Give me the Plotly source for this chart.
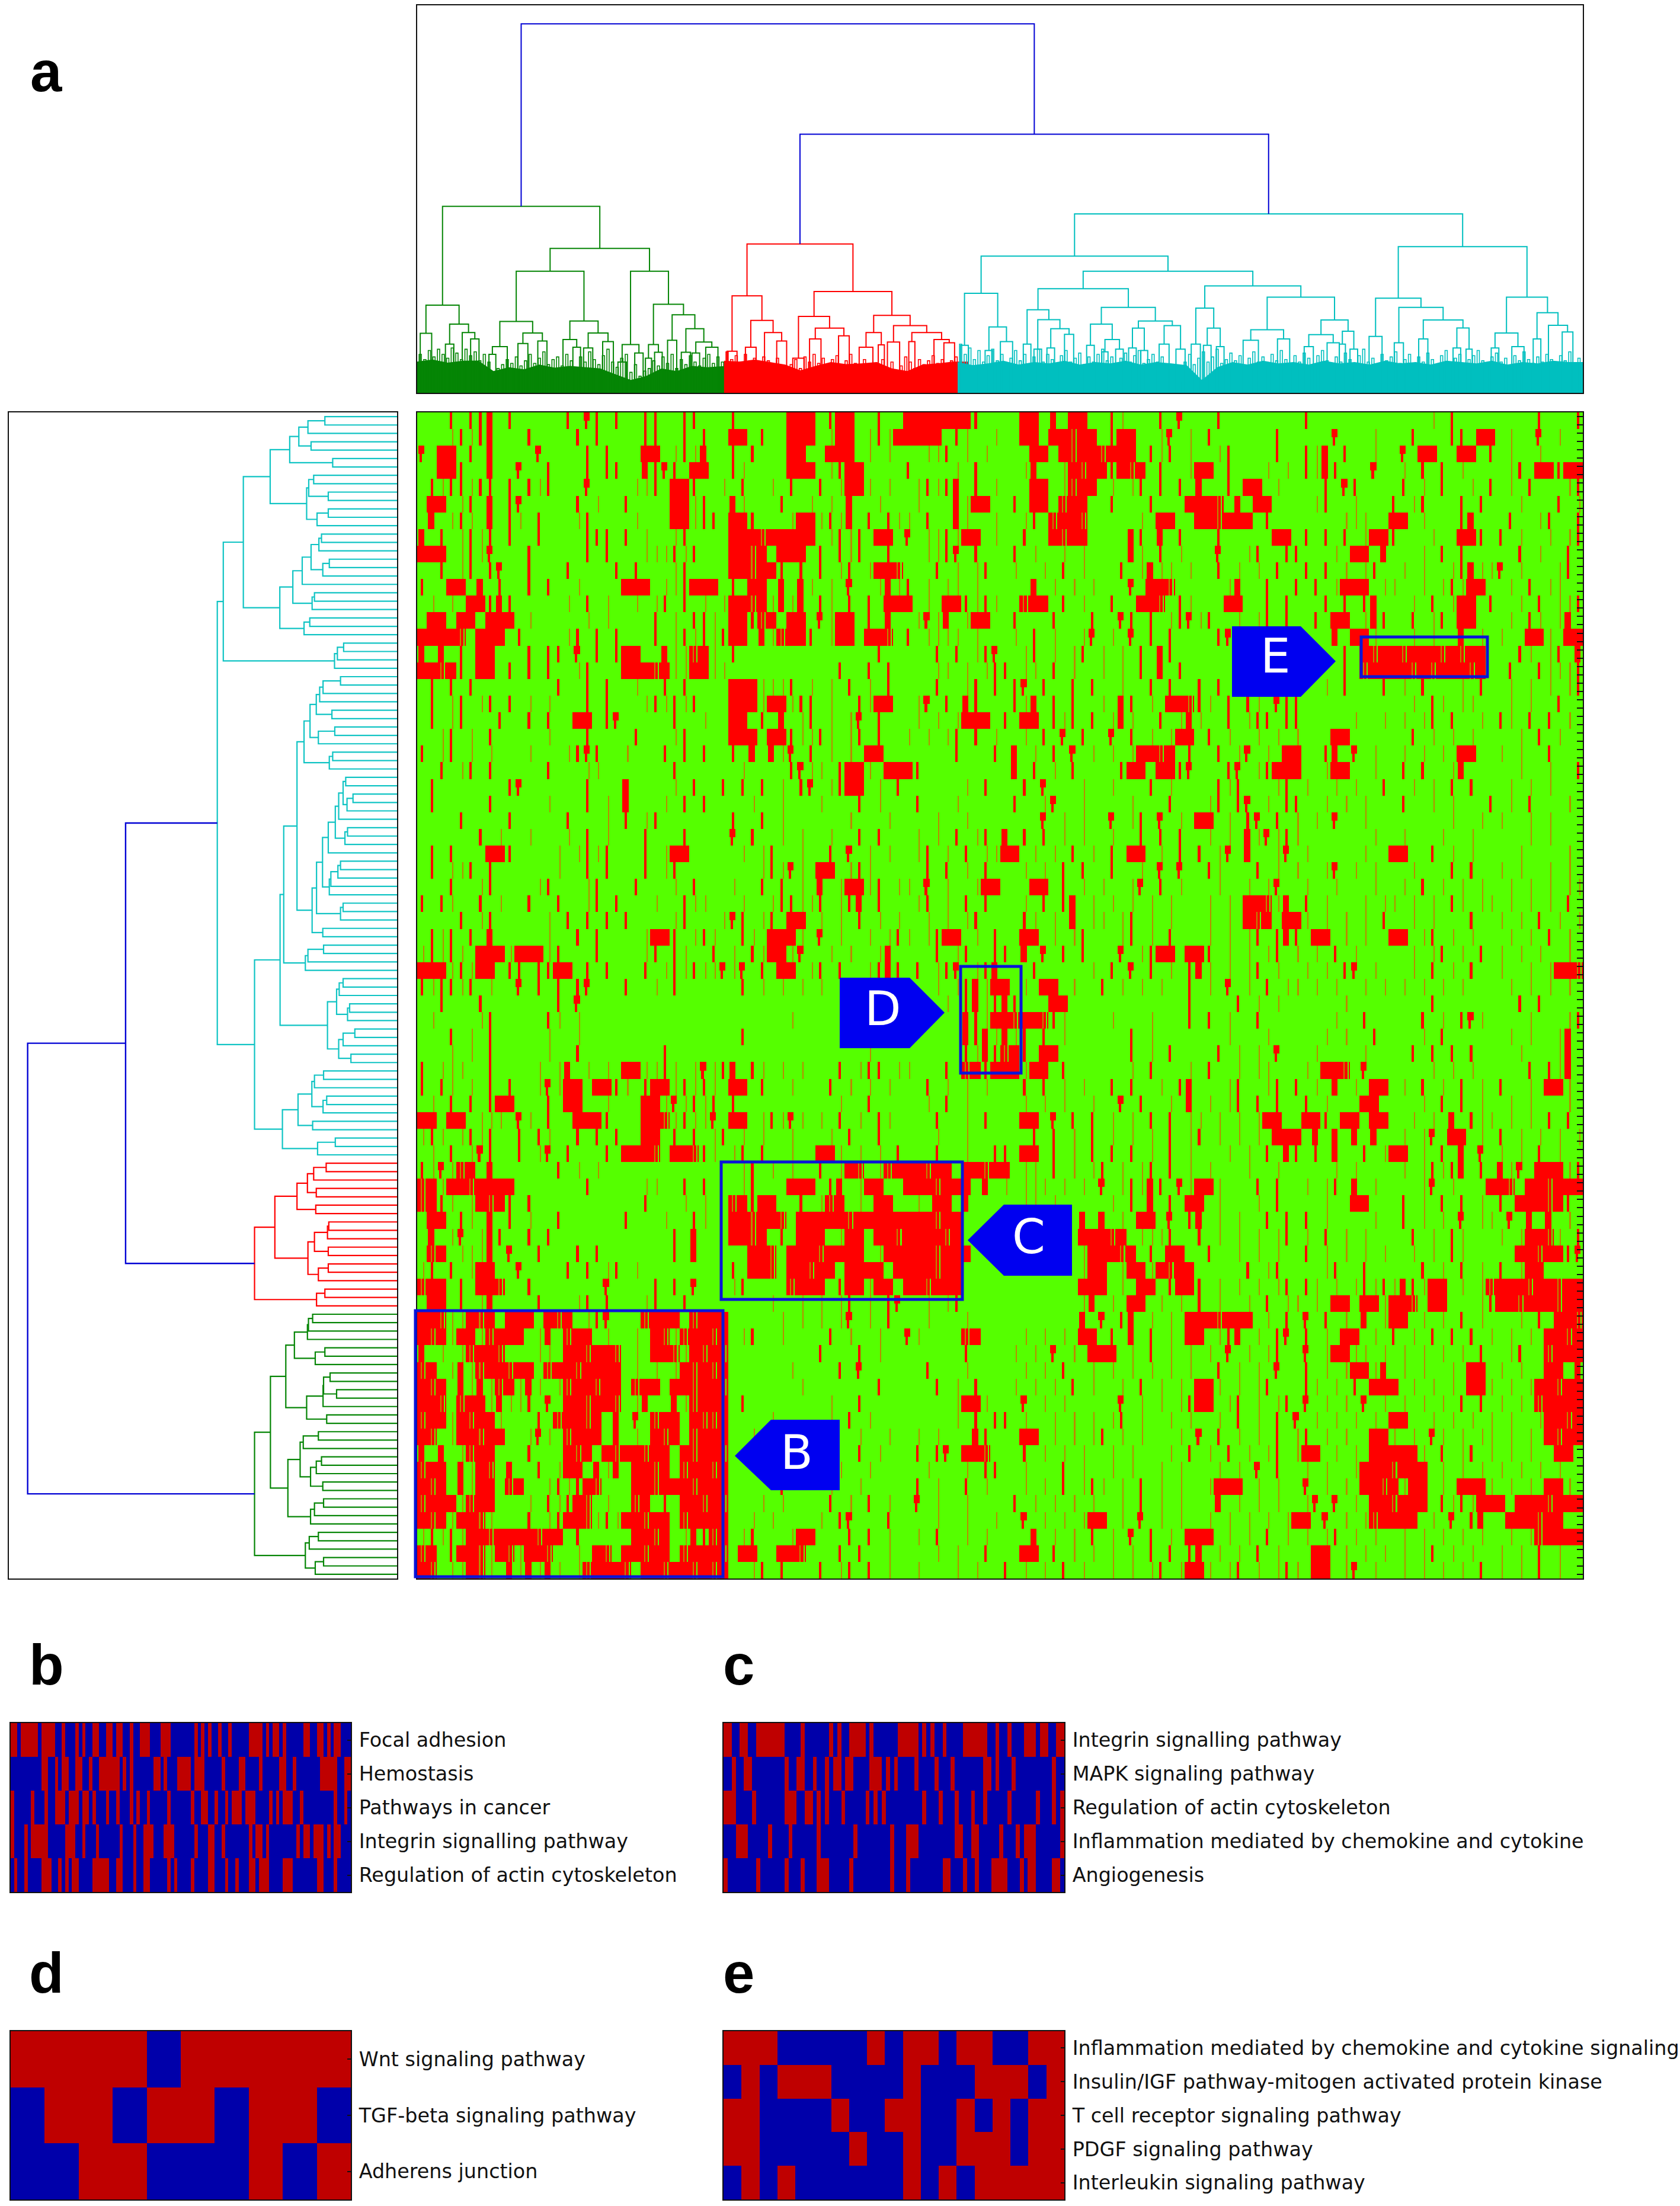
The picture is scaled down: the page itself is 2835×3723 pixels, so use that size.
import plotly.graph_objects as go

W, H = 2835, 3723

# ---------- main heat map, each string is two rows, each char a block of columns ----------
# . none   | thin red   : thin faint   # solid red   % red with a thin gap
HEAT_WEST = [
"...|.||#.| .....|.#|. |..||..||. ..|.....## #.|##..|.. #######|..",
"...:|:|#.. .|....|.|. ...||..|.| ..##.|..## #.:##.:|:# ####.|:..:",
"#.##.|.#.. ..#....|.| ...##.:|:# ..|.|...## ..###.:.:. ..::|.:.:.",
"..##|..#.. #..|...|.| |..#|#|.## ..|:....## #.:|##.... |....:.|..",
".|:||:||.| .|:|...#.. ..::|.##|. .:.|..:.|. .|.:##:.:. .:|:|#.|.:",
".##.:|.#.| #.....|.:. .|....##:| ..#:...|.. :.:.#..:.. .:...#:##.",
".#.:|:.#.| :.|...:|.. ..:...##:| |.##|...:# #:|:#.|.|: :.|..#:..:",
"#.|.:|:|.| ..|....||| .|.:..:|.. ..###%#### #.:|:|.##. #.::|:##.:",
"###.:|:#.. .|.....|.| ...:::|:|. ..##%#.### .|.|:|..|. ..::|#.|..",
"..|.:|.|#. .|...|.... |.|...:|.. ..##%##|.| .|.:|.:##% ...|.:.:|.",
"|..##.#.|. .|.|..:... .###.::|## #.|.##.#.# :.:.#..:#: |.:.::.:..",
".:.:.##|#| .....:.|.: ..:.:|.|.: .:##%#:#:# .|:.|.|.## #.:.##|:|:",
".##.##.### .:.....:.: ....|.:.|| :.##|%#.## .#:##.|.#. .:#:#.:##.",
"####%.###. |....:|.|. |...|.:|:| :|##.#:%## |.:##.##%. |.::::.:..",
"#.#.|.##.. .|.||.#.|. |##..#::%# :.|....... .......|.. ...|.|.:|#",
"##%#|.##.| .|.|..:|.. .###%#::## ::........ ...|..|.|. ...::.:.:|",
".|.|.|.... ....|..|.| ..:..|.|.. ..###:::|. :.:.|.:.|. ...|..:|.|",
".|.:|.:|.| .:.:...|.| ...:|:|:|. ..###:##:| |.:..|:##. .:#.|.#|..",
".|.:|...|. .|.|..##.| #.....|..: ..##.|.#.: |.:.:#.|.. .:.:.:###.",
"..:|.:.|.. ...:...|.. ..|...:|.. ..###.##|: :|:.:|.|.. :.:.:|.|.:",
"|.:|.:.:.. .:...:|#|. .:...|.|.| ..|.#.#:#. |.:.:.##.. .....|...|",
"..|.:|.|.. ...|...::. ......|... ...:....|# ::.|##:.## #|........",
".|.......| #......|.. .#....:.|. .|.|.|.:.| #.:|##.:.| ......:.|.",
".|.....|.. ...:...|.: .#...:.|.| ....:..:.. .:...|.:.. .|...:....",
"....|....| .....|...: .|.:|..... ..|..|.:.. ....:...:. ...:..:...",
"......|.:. .:...:.|.: ...|...|.. ..#.|..:.: ..:..|.|.. .:.:.|.:|.",
".|.|...##| ....:.:|:| ...|.:##.. ...:.:|..: ..|.#.:.:. .:|.:.|.::",
".|.::|.|.. ....:..|.| ...|.:|... .....:|:#: .##.:|:... ..|.|.:.|.",
"...|..:|.. ..:|...:|. ..|...:.|. ..:..|.|.: .#.:##:|.: :.#.:..:##",
"|.|:..|.:. .|..|..:|. |...:..|:: ...:..:||: :|.:|#.|.. .:|.:.|.|.",
"....|.:|.. ...:.|.|.| .|....:|.. .:#|.:|.## .:.:.|.:.: ..:.:.:|..",
".|:|.|.#.. ...:..|.|. ...:##|.:| :..|:.###: .#.:..:.:| :.:|##.:.|",
":|:|:.###: ###:|...|. ...:|.|:.. |.:.|:##:# ..:.:..:#. ...|.:|..|",
"###:|:##.| |.||##.|.| ...|.:|:|: :#:#.|.##. :|.|..:|#| .|.:|#.:|#",
"|:||:|.:.. #.|.|.|#.. .|..:.|... ...|.:.:.: .:.:.:.:.. ...:.:|#:#",
"..|...|... ....|.#... .......... .......... .......... ....:.|#:|",
".:....:|.. ...|:.:... .......... ........:. .......... ......#|:#",
"...|.:.|.. ...:..:... .......... ...|...... .......... ......#|#:",
"...:.:.|.. ...:..|... .....|.... .......... ......:... ......|:#|",
"|.:::..|.. ..:.:#.:.: .##::|:.:# :|#.|:.:.: ...|.:||.: :...|.%#|#",
"|.|:.:.|.| ..:#:##.## |:.|##:|:| :.##.|..:. ..|.:.:.:. ..|.:.:.:.",
".:.|.|.|## ...|.##..: ...##:#:|: |.|....... ...:..|... ..:.|.:...",
"##.##.:::. #:.|..###| ...##%:|:: #.##.:|:#: .:.|.:.|:. ...|..:.|.",
":|:.:|:|.. |.|:..|.|. |..##.|.|. :|.:.:..:. ..:.|..|.. ...:..:...",
".:.|.:#|.. |.:#.|...| .###%.##%| :.:|.|..:. .##:.:.:.| ...|..:..|",
"|:#:%#.#.. ....|.:.:. .......... ...:|.:.:. .|.:#%.:%# ##%##.##%#",
"%#:##%#### .......|.. ...::..|.| ...:|...## #.|#.:##.. ###%###.#.",
"%#|:.:#%#| .|........ ...|...:.: ..%#|##..| .:%#.:.##. .:.##.#...",
".##.|:.#.| .:..|..... .|...:..|: ..##%##%.# ####%##### ###%##....",
".#.:#.:#|. .|.|...... ......|.#. ..##%#.|.# ##.:##.##% ####%#....",
".%#.:::#.# ..|...|.|. ......|.#. ....##%.## #%####.:## ###%###...",
":|.|.:##.. #....|.|.: |.:....... ..|.##%.## %##.####.# ###%##....",
"%##.|.##%. .|.......# ....|.|.#. ..:|....%# ##.|##:##. ##%###....",
".##.|.:#.. ..|...:|.| ...:|..|.. ......:..: .:.:|.:.|# ..:.:|....",
"##%::#%#.# ##.#%#.:|# ...%###.%# ##.....:.: .:.:#.:.|. ..:...:...",
"#%#:##:%## #.:#.%##.: ..:.#%:%## %#.:|..:.. ..|.:..:.. #:....%#..",
"#.:.:%##%. ..::.##%## %.:.##%:#% #%........ .|...|.:.. ......|...",
"%#.:#:%##% ##.%##%### #.:.:.:#%# %#......:. ...|.#.... ..|...:...",
"#%#.#:#:%# :#:.:%##%# #.%##.##%# #%.......: .......|.. ...|.:.|..",
"##%.%##:#: :|.#.##%## %.:#..#:%# ##.|...... ..:..|.... .....:##:.",
"%##:#%##:. ..|.%##%#. #.#.%##.#% %#....:... ..:.|.:... .....:.|.|",
"#%.:##%##. .:#:.%###. %.:.#%#.%# ##..:...:. .:...:..:. .:.:...#|.",
"#.#.:%##.. .|...#%#.# %##%##.#%# #%...:.... .:...|.:.. .|.|#.##%.",
"%##.#:#%.# ..|.:##.#: #.##%#.%## %#......|. ...:..:... ..:...:.||",
"#%#.#:##.% #..:|:|#%. ..##%###%# ##.....|.. ..:..:.... .|.:..|.:.",
"%###:%##.. .:.|:|#%.: ..%#.|.##% #%...:.:.. ..|.:.|.:. .#.:..:...",
"#%#:##%:.. .|.:|##%:| :##%##.%## ##..:.:... .:.|#...|. ...:..:..:",
":|:|:##%## ##%##.|... ..##%#.:#| %#.:|...:# #...|.|.:. .:.|..:.:.",
"%#.|##%:#% :##%..:.#% .##%##.%## #%.##..##% ...|.|..:. ...:.:..|.",
"#%.::#%:.# :#:#:.:%## #%.##%##%# %#..:|.|.. .|.:|.|.:. .:...:.:..",
]
HEAT_EAST = [
"..##.#.##. .|:...|.#. ..|....... .|........ ....:.|... .....|...|",
"..##.##%## .|##..:#.: .|......|. ....#...:. ..|...||.# #.:..#.:..",
"...##.#%## %###.|:|.: ..:|....|. .|:#.|..:. .#.##..##. |.:..:....",
"..:#..:#%# #|#%#.|..: ##.|...:.: .|:#|...#. .:.|.|.:.. ..:|.##|##",
"...##.:%## .:.:|.|.|. #..|.##.:. ...|.#|... .|.:.|..:. |.:.|...:|",
".|.##.%##. .|...|...# ##%.#.##.. ..:|..:... |.:|...|.| ...:...|.:",
"..:|.%##%. ....:.##.. ##%###.|.. .....:::.. ##.:...|#. ..|..:|..|",
"..|..#%##. ...#|.#.|. ..|.....## .|.|.|.:## |...:..##| .|.:..:.:|",
".|.:..:.:. ...#:.|.:. ..#..:|..| |...:.##.# ...:.|.|.. ...|.:..|.",
".:..:.|.:. ..|.:#::.: ..|.:.:.|. .|.|.:.:|. .:.:..:|#: :#.:...:|.",
"...#.:.:.: ...#.##%.. ...:#..|.. |.|.:###.: :..:.:|:## ..:.|.::..",
"..%##.|.:. .|..##%.|: ...##..|.| ...|.|.|#. ..:.|.:##. |..:.|.::|",
".|...|...| ..#|.|.:|# :|..:.:|.| ..|.##.:#| ..|.:|.##. ..:.|:.:#.",
".:.|.:..:# .:.#.|.|.. ..|#...... ....#.##:. ..:.:..#.: .:..##:.##",
"..:|.:.:|. :.:.|.#|.. .......... .....|.#%# #%###%#%## ...|:.:|.#",
"|.::.|.:.. :.:.|.#.|. .......... .....|.%## ##%#%###%# ..|..|:::|",
".|#.|..|.| ..:..|.|.. |.|....... ...:.|...| .:.|...:.| ..:.:.:.:|",
".|:#.|.|.. :.#|.:.##% |:.|.|:.#| |......... ..:.|:.::. ..:.:..|..",
"|.##.|:|.| .:#:..|.:# :..|.:||.| |.....:..: .:.:|.|..: .|:.|.|.:.",
"..:.|.#.|. .#.|.:.:## .|.:..:.:. :...##.... ..|.:.:.:. ...:.|.:..",
".#.:.|.#.: .:.:##%#.| ..|.:#.:.# #..|#.#.:. .:.:.:.##. .:.:..|...",
".#.|.:.|.. ..|##.##|# ...|#.:|## #..:##..:. .|.|..:#.. ...:..:..|",
"..|.#...:. .:...|.:.. ..|:|...:| .:..:.:..| ..:.:.|.|. ..:.:.:...",
".|..:#..:. ...:...|.. .:|.|#.:.| |..:.:.:.. .|..:.:... |.:.|...:.",
"....#.:.:. .#.:|.#.:. ##.:.|#.|. :.:.#..:.. ......:..: .:..:.:...",
"#.|.|.:.:. .:..|.|.|. .:.:.#:#:| :.......:. .:...:..:. ....:.:...",
"##.:.:.|.: .|.##.:.|. |.:#.#..:# .:.....:.. ##..|.:.:. ...:....:.",
"..:.:.|.|. .|..:.#.#. .|:...|.:. :..:#.:.:. ..:...|.|. .:.:..:.:.",
"...##.|.:. :..:#.|.:. ..:..:.:#. .:..:...:. .:.|.:.:.: ..:.:.:.::",
"..:.|.|#.: .:.:.:.:.. .:.:.##%:# .|.:...:.: :.:.:.|:.: :.:.:.:.|.",
"..|:.:.#.: :.:|.:.:.. .:.:.#%#.# #:.:.:.:.| ..:.:...|. .:.:.|.:.:",
"..##.:.:|. ..:|.:.|.. .:.:.:|.|# |.##.:.:.. ##.:|.:.:. ..:.:.|.:.",
"|.#.#.|.|. ..#.:|##.# #|.:.:.:|. :.:.|.:... ..:.:|.:.| .:.:.:..:.",
"...|.....: .|.#.|.:.| #:.:.:|.:. .:.:.|#.:. ..:.|.:.|. .:..:.:##%",
"#.:.##.:.. |.:.:.:..| .:.#.:.|.: :.:.:..:.: .:.:.:.:.. ..:.:.:.:.",
"#|...##... .........| ....|.:.:. .....:.... ....|..... ...|.|....",
"#%##%|:... .:...:...| .|.:..|... ....:..|.. ...|.:.|#: ....:...:|",
"#:|.|.:... ...|.:.... ...:...:.. ...:.:..|. ...:.|.... ..:.:..:#.",
"%#|.##.... ...|.:.|.. ..|.:.:.#. ..:....:.. ..|.|.|.|. ...:...:#.",
"##:##.|... ...:.|...: .|..:.::.. .:.##%.#.. ....:.:.:. ....|.|:#.",
"..|.|.:.:. .|.|..:.|# ...:|..:|. |.:.#.:.## .:.|.:.|.: .|..:.##:.",
"..:.:.:..: ..#.|..:.# .:.:|.|.|. .|.:...##. ...:.|.|.: ..:.:...:.",
"..##.#.|.| .:.:.|.|.: :.:.:.:##. .##|.##.## ..:.:.#.|: :.:.:.|.|.",
"...|.|.:.| .:.:.:.|.: |.:.:.:.## #.#.#.#.#. .:.:#.##.: .|.:.:.:.:",
"|.##.|.:.| .|.|.:.|.: ...:.:.|.# |.|.#..|.: ##.:.|.#.# .:.:.|.:..",
"#.::.|.:.: |.:.:|.|.: .:...:..:. ....:.:... .:.:|:|#.| .#:#.###:|",
":.:::.:.:. #.:|:#|.#: ##:...|.|. .:.:|.#.:. ...:#.:... ##%.##%###",
"..::.:.... .:.|.#.|.# #.:...:.|. ...:..##.. .|.:.|.|.: .|.###%#|.",
"........#. #.:.##.#.| #.:.:..|.| .|.:....:. .|.:.:.#.: :.#.#.#.:.",
"........## #%#.:::|.. |.:.:.:.:| .:.|.:.:.. ..|.:.|:.. .:.:##%:.|",
"........:# ##%#.|.##. .|..:.:.:. .|.:.:.:.: ..:.:.|:.. ...##%##|#",
"........:# #.:##:#%## .....|.:|. ...:|..|.. ...|.:.|.: .|.:##....",
"........## #.:.##.|## |.:.:.:.:| .|:.:.:|:| :#|:##.:.: %###%##%##",
"........:# .:.##.:.:. |.:..:.|.: :.:.##.##: ##%.##...: |##%###%##",
"........#. #.|#.:.:.# ##%###.:.| .#.|.:.#.: ##.:.:.|.: ...:.|.##%",
"..:.:.:.## .|.#.|.:.# #.:|#.:.|# .|.:.##.:. |.:.|.|.|. :.:.:.##%#",
".:.:.#.:.# ##.:.|.:.: .:.#.:.:|. .#.:##::.: .:.:.:.:.| ..:|..%###",
"..:.:.|..: .:.:.:.:.: ..|.:.:.#. .|.:.:##:# .:.:..:.## .:.:..##.#",
".:.:.:.|.: ..:.|.:.:. ##:.:.:|.. .|:.:.|.## #.:.:.:.## :.:.:##%##",
"..#.:.:... ..#.:.:.:| ##.:|.:.:| .#.:.:.#.: .:.:.:.|.| .:.:.%####",
"|.:..:.:.: .:|.:..:.: ..:.|.:.|. #.:.:.:.:. ##..:.:.:. :.:..:##%#",
"..##.:.:.: |.:.:...:. #.|.:.:.|. :|.:.:..## :.:.#:.:.: :.:.:.#%##",
"..|.:.:.:. .:.:...:.| .:.|.:.:|. :##.:.:.## ###:.|.:|. :.:.:..##.",
"..:...|.:. .:.:..:.:. ..:.:.#.|. .:.:..:### %###.:.:.: .:.:.:.:..",
"..:.:.|.:| :.:.|.:.:. .:###.:.:. .#.:.:.##% #:##.:.### :.:.:.##:.",
".|.:.:.:.: ..:.|.:.:. ..#.:.:.:. .:#.#.:.## %###.|:|:# ##.###%###",
"..#.:.:.:# #.:.#.:.:. .:.:.:.:.: ##.#.:.:%# ###.:.#.|# ..###%##..",
"...#.:.:.| .:.#.|.:.# ##.:.:.|.: .:.:|.:.:. .:.:.:.:.: ..:.:%####",
"..##.|.:.: .:.:.|.|.| #.:.:.|.:. ..##.:.:.: .:.:|.:.:. .:.:.|.:..",
"|.:.:.|.:. .:.:.:|.:# #:.:|.:.:| :.##.:#.:. .:.:.:.:.| .:.:.|.:..",
]

# ---------- dendrogram above the heat map: [merge height, left, right]; a number is a leaf position ----------
TOP_GREEN = [727,
    [342, [232, 22, 37], [268, [190, 55, 66], [235, 77, [210, 88, 99]]]],
    [563,
        [474,
            [278, [180, [150, 112, 121], 136], [233, [192, 150, 163], [202, 176, 188]]],
            [280, [208, 209, [178, 222, 232]], [233, [175, 236, 248], [200, 261, 275]]]],
        [474,
            [188, [120, 281, 292], [155, 303, 314]],
            [345, [188, [135, 317, 325], [158, 329, 339]],
                [304, [205, 346, 358], [250, [158, 364, 376], [198, [155, 378, 388], [178, 396, 412]]]]]]]]
TOP_RED = [580,
    [378, [162, 424, 437], [282, [178, 448, 462], [235, 473, [202, 489, 502]]]],
    [395,
        [298, [135, 510, 525], [252, [210, 532, 547], [222, 570, 584]]],
        [302, [235, [178, 597, 615], [187, 622, 630]],
            [262, [198, 634, 650], [235, [200, 662, 670], [208, 695, [195, 708, 722]]]]]]]
TOP_CYAN = [697,
    [533,
        [388, [185, 730, 740], [257, [165, 762, 772], [200, 782, 798]]],
        [474,
            [406,
                [324, [190, 812, 822], [285, [170, 826, 836], [250, [175, 843, 853], [228, 866, 878]]]],
                [333, [268, [185, 895, 905], [208, [160, 915, 923], [170, 933, 943]]],
                    [280, [252, [175, 950, 960], [165, 966, 975]], [262, [190, 990, 1003], [170, 1012, 1024]]]]],
            [417,
                [330, [190, 1032, 1044], [252, [185, 1048, 1058], [180, 1065, 1075]]],
                [373, [246, [205, 1100, 1120], [210, 1145, 1161]],
                    [284, [227, [180, 1180, 1192], [195, 1210, 1226]], [240, [190, 1226, 1234], [170, 1240, 1250]]]]]]],
    [570,
        [369, [220, 1265, 1282],
            [333, [195, 1298, 1310],
                [284, [210, 1330, 1342], [253, [175, 1375, 1385], [170, 1392, 1400]]]]],
        [373, [233, [175, 1425, 1435], [180, 1452, 1468]],
            [312, [210, 1480, 1490], [263, 1500, [237, 1518, 1532]]]]]]
TOP_ROOT_HEIGHT = 1438
TOP_INNER_HEIGHT = 1008

# fine branches (heights) and solid base (heights) of each coloured group
GREEN_TIPS = [150,130,165,140,170,150,135,175,155,130,170,145,160,125,150,120,70,95,110,130,115,140,105,125,150,115,135,160,110,130,140,105,150,125,95,140,120,160,130,110,145,170,120,100,135,150,80,110,65,85,95,125,105,140,115,150,95,130,110,145,120,105,135,150,115,140,120]
RED_TIPS = [160,130,145,120,150,125,135,110,140,125,105,135,95,70,110,130,95,140,120,150,115,135,105,130,145,100,125,150,115,90,130,105,85,110,130,95,120,80,105,140,120,95,130,110,125,145,115,130,100,125,140]
CYAN_TIPS = [190,150,175,130,165,120,145,170,125,150,115,135,165,125,150,110,140,170,120,150,130,110,145,165,120,135,155,110,140,120,150,170,125,140,110,135,155,120,145,165,115,130,150,120,140,110,90,60,45,120,150,110,135,160,120,140,170,115,130,155,125,145,105,135,160,120,140,110,150,125,165,130,110,145,120,155,135,110,145,165,125,105,140,120,155,130,110,145,170,120,135,110,150,125,140,160,115,130,150,105,140,120,155,130,110,145,165,120,135,150,110,130,145,165,125,110,140,155,120,135,105,145,125,160,130,115,140,120,150,130,110,145,125,160,115,135]
GREEN_BASE = [122,130,118,125,126,85,100,92,110,98,105,100,95,72,50,66,95,85,105,100,104]
RED_BASE = [125,122,130,120,110,88,105,120,112,115,120,95,85,110,115,122]
CYAN_BASE = [120,108,115,125,110,120,115,125,110,120,115,125,110,120,115,108,50,100,120,110,125,115,120,110,125,115,120,110,125,115,120,110,125,120,115,125,110,120,115,125,120]
TIP_START = {"green": 22, "red": 424, "cyan": 730}
TIP_STEP = 6
BASE_STEP = 20

# ---------- dendrogram left of the heat map: [merge position, upper, lower]; o is a leaf ----------
o = None
LEFT_CYAN = [832,
    [855,
        [932,
            [1035,
                [1110, [1145, [1180, [1245, o, o], o], [1192, o, o]], [1275, o, o]],
                [1175, [1183, [1202, o, o], [1258, o, o]], [1215, [1258, o, o], o]]],
            [1072,
                [1122, [1158, [1192, [1222, [1232, o, o], o], [1237, [1262, o, o], o]], o],
                    [1196, [1205, o, o], o]],
                [1165, [1187, o, o], o]]],
        [1282, [1293, [1317, o, o], o], o]],
    [975,
        [1073,
            [1087,
                [1138,
                    [1165,
                        [1188, [1212, [1225, [1238, [1305, o, o], o], o], [1272, o, o]],
                            [1220, [1283, o, o], o]],
                        [1262, [1275, o, o], o]],
                    [1196,
                        [1213,
                            [1236,
                                [1258, [1285, [1298, [1315, [1325, o, o], [1330, [1353, o, o], o]], o],
                                    [1322, [1332, o, o], o]], o],
                                [1262, [1268, [1295, [1305, o, o], o], o], o]],
                            [1305, [1315, o, o], o]],
                        [1237, o, o]]],
                [1170, [1180, [1240, o, o], o], o]],
            [1255,
                [1290, [1300, [1315, o, o], o], [1332, [1340, o, o], o]],
                [1298, [1315, [1360, o, o], o], [1345, o, o]]]],
        [1082,
            [1142,
                [1195, [1205, [1240, o, o], o], [1238, [1252, o, o], o]],
                [1198, o, o]],
            [1217, [1285, o, o], o]]]]
LEFT_RED = [975,
    [1053,
        [1138, [1178, [1202, [1250, o, o], o], [1212, o, o]], [1210, o, o]],
        [1180, [1205, [1255, [1260, o, o], o], [1258, o, o]], [1220, [1258, o, o], o]]],
    [1213, [1245, o, o], o]]
LEFT_GREEN = [975,
    [1036,
        [1095,
            [1128, [1178, [1182, [1198, o, o], o], o], [1208, [1245, o, o], o]],
            [1175, [1238, [1240, [1265, o, o], [1290, o, o]], o], [1252, o, o]]],
        [1103,
            [1150, [1162, [1220, o, o], o], [1190, [1212, [1232, o, o], o], [1237, o, o]]],
            [1190, [1205, [1240, o, o], o], o]]],
    [1170, [1185, [1220, o, o], o], [1208, [1240, o, o], o]]]
LEFT_ROOT_POS = 104
LEFT_INNER_POS = 480
LEFT_LEAF_POS = 1522

# ---------- small panels: red runs (first, after-last column) for each row ----------
B_LABELS = ["Focal adhesion", "Hemostasis", "Pathways in cancer", "Integrin signalling pathway", "Regulation of actin cytoskeleton"]
B_COLS = 100
B_RUNS = [
    [(0,2),(3,8),(9,13),(15,16),(19,20),(21,22),(24,26),(28,30),(31,33),(35,36),(38,41),(44,47),(54,55),(56,57),(58,59),(61,62),(64,65),(70,74),(75,76),(77,79),(80,81),(86,88),(90,92),(93,94),(95,97)],
    [(9,11),(13,14),(15,17),(19,21),(23,24),(26,32),(33,34),(35,36),(42,44),(45,46),(49,53),(54,57),(62,63),(67,69),(73,74),(79,81),(83,84),(91,96),(98,100)],
    [(0,1),(6,7),(10,11),(13,16),(17,20),(21,23),(24,25),(28,29),(31,32),(35,36),(37,38),(40,41),(46,47),(53,54),(56,58),(60,61),(63,64),(65,68),(69,72),(76,77),(78,79),(80,83),(85,86),(95,96),(98,99)],
    [(0,1),(4,5),(6,11),(16,19),(21,22),(25,26),(32,33),(36,37),(39,42),(45,48),(54,55),(58,60),(62,63),(70,71),(72,74),(75,76),(84,85),(86,88),(89,92),(93,94),(95,97)],
    [(1,2),(4,5),(9,12),(14,15),(16,17),(18,20),(24,29),(31,33),(36,37),(39,41),(46,47),(48,49),(53,54),(58,60),(63,64),(66,67),(70,72),(73,76),(80,83),(90,92),(95,96)],
]
C_LABELS = ["Integrin signalling pathway", "MAPK signaling pathway", "Regulation of actin cytoskeleton", "Inflammation mediated by chemokine and cytokine", "Angiogenesis"]
C_COLS = 84
C_RUNS = [
    [(0,2),(4,6),(8,15),(19,20),(26,27),(28,29),(31,35),(36,37),(43,48),(49,50),(51,52),(54,55),(59,65),(67,68),(70,71),(74,77),(78,80),(82,84)],
    [(2,3),(5,7),(15,16),(18,20),(22,23),(25,26),(27,29),(30,32),(36,39),(40,41),(42,43),(47,48),(52,53),(56,57),(64,66),(67,68),(71,72),(81,82)],
    [(0,3),(7,8),(15,18),(20,22),(23,24),(25,26),(29,30),(35,36),(37,38),(39,40),(49,50),(53,54),(57,58),(61,62),(64,65),(70,71),(77,78),(81,82),(83,84)],
    [(3,6),(11,12),(16,17),(23,24),(32,33),(41,42),(45,48),(57,59),(61,63),(68,69),(72,73),(74,77),(83,84)],
    [(0,1),(8,9),(15,16),(19,20),(23,26),(31,32),(41,42),(45,46),(54,56),(59,60),(62,63),(66,70),(73,74),(75,77),(81,83)],
]
D_LABELS = ["Wnt signaling pathway", "TGF-beta signaling pathway", "Adherens junction"]
D_COLS = 10
D_RUNS = [
    [(0,4),(5,10)],
    [(1,3),(4,6),(7,9)],
    [(2,4),(7,8),(9,10)],
]
E_LABELS = ["Inflammation mediated by chemokine and cytokine signaling", "Insulin/IGF pathway-mitogen activated protein kinase", "T cell receptor signaling pathway", "PDGF signaling pathway", "Interleukin signaling pathway"]
E_COLS = 19
E_RUNS = [
    [(0,3),(8,9),(10,12),(13,15),(17,19)],
    [(1,2),(3,6),(10,11),(14,17),(18,19)],
    [(0,2),(6,7),(9,11),(13,14),(15,16),(17,19)],
    [(0,2),(7,8),(10,11),(13,16),(17,19)],
    [(1,2),(3,4),(10,11),(12,13),(14,19)],
]

GREEN, RED, CYAN, BLUE = "#058505", "#ff0000", "#10c4c4", "#0000d4"
HEAT_BLUE = "#0000f0"


def dx(a, b):
    return [a / W, b / W]


def dy(a, b):
    return [1 - b / H, 1 - a / H]


fig = go.Figure()
layout = {}


def add_axes(n, xdom, ydom, xr, yr, **yextra):
    s = "" if n == 1 else str(n)
    layout["xaxis" + s] = dict(domain=xdom, range=xr, anchor="y" + s, showgrid=False, zeroline=False,
                               showticklabels=False, ticks="", showline=True, mirror=True,
                               linecolor="#111", linewidth=2)
    ydict = dict(domain=ydom, range=yr, anchor="x" + s, showgrid=False, zeroline=False,
                 showticklabels=False, ticks="", showline=True, mirror=True,
                 linecolor="#111", linewidth=2)
    ydict.update(yextra)
    layout["yaxis" + s] = ydict
    return "x" + s, "y" + s


def seg_lines(segs):
    xs, ys = [], []
    for s in segs:
        for p in s:
            xs.append(p[0])
            ys.append(p[1])
        xs.append(None)
        ys.append(None)
    return xs, ys


# top dendrogram
def walk_top(node, segs):
    if not isinstance(node, list):
        return node, 0
    h, l, r = node
    xl, hl = walk_top(l, segs)
    xr, hr = walk_top(r, segs)
    segs.append([(xl, hl), (xl, h), (xr, h), (xr, hr)])
    return (xl + xr) / 2, h


xa, ya = add_axes(1, dx(704, 2671), dy(9, 663), [18, 1545], [0, 1510])
tops = {}
for name, tree, tips, base, color in [
    ("green", TOP_GREEN, GREEN_TIPS, GREEN_BASE, GREEN),
    ("red", TOP_RED, RED_TIPS, RED_BASE, RED),
    ("cyan", TOP_CYAN, CYAN_TIPS, CYAN_BASE, "#00bfbf"),
]:
    start = TIP_START[name]
    bx = [start - 4 + i * BASE_STEP for i in range(len(base))] + [start - 4 + len(base) * BASE_STEP]
    fig.add_trace(go.Scatter(x=bx, y=base + [base[-1]], mode="lines", line=dict(width=0, color=color),
                             fill="tozeroy", fillcolor=color, xaxis=xa, yaxis=ya, hoverinfo="skip", showlegend=False))
    tip_segs = []
    for i, t in enumerate(tips):
        x = start + i * TIP_STEP
        tip_segs.append([(x - 1.5, 0), (x - 1.5, t), (x + 1.5, t), (x + 1.5, 0)])
    X, Y = seg_lines(tip_segs)
    fig.add_trace(go.Scatter(x=X, y=Y, mode="lines", line=dict(width=1.6, color=color),
                             xaxis=xa, yaxis=ya, hoverinfo="skip", showlegend=False))
    segs = []
    tops[name] = walk_top(tree, segs)
    X, Y = seg_lines(segs)
    fig.add_trace(go.Scatter(x=X, y=Y, mode="lines", line=dict(width=2, color=color),
                             xaxis=xa, yaxis=ya, hoverinfo="skip", showlegend=False))

inner_x = (tops["red"][0] + tops["cyan"][0]) / 2
blue_top = [
    [(tops["red"][0], tops["red"][1]), (tops["red"][0], TOP_INNER_HEIGHT), (tops["cyan"][0], TOP_INNER_HEIGHT), (tops["cyan"][0], tops["cyan"][1])],
    [(tops["green"][0], tops["green"][1]), (tops["green"][0], TOP_ROOT_HEIGHT), (inner_x, TOP_ROOT_HEIGHT), (inner_x, TOP_INNER_HEIGHT)],
]
X, Y = seg_lines(blue_top)
fig.add_trace(go.Scatter(x=X, y=Y, mode="lines", line=dict(width=2, color=BLUE), xaxis=xa, yaxis=ya,
                         hoverinfo="skip", showlegend=False))


# left dendrogram
def count_leaves(n):
    return 1 if n is None else count_leaves(n[1]) + count_leaves(n[2])


N_ROWS = count_leaves(LEFT_CYAN) + count_leaves(LEFT_RED) + count_leaves(LEFT_GREEN)
row_counter = [0]


def walk_left(node, segs):
    if node is None:
        y = row_counter[0] + 0.5
        row_counter[0] += 1
        return LEFT_LEAF_POS, y
    p, a, b = node
    pa, ya_ = walk_left(a, segs)
    pb, yb_ = walk_left(b, segs)
    segs.append([(pa, ya_), (p, ya_), (p, yb_), (pb, yb_)])
    return p, (ya_ + yb_) / 2


xb, yb = add_axes(2, dx(15, 670), dy(696, 2664), [32, 1522], [N_ROWS, 0])
left_pts = {}
for name, tree, color in [("cyan", LEFT_CYAN, CYAN), ("red", LEFT_RED, RED), ("green", LEFT_GREEN, GREEN)]:
    segs = []
    left_pts[name] = walk_left(tree, segs)
    X, Y = seg_lines(segs)
    fig.add_trace(go.Scatter(x=X, y=Y, mode="lines", line=dict(width=2.2, color=color), xaxis=xb, yaxis=yb,
                             hoverinfo="skip", showlegend=False))
inner_y = (left_pts["cyan"][1] + left_pts["red"][1]) / 2
blue_left = [
    [left_pts["cyan"], (LEFT_INNER_POS, left_pts["cyan"][1]), (LEFT_INNER_POS, left_pts["red"][1]), left_pts["red"]],
    [(LEFT_INNER_POS, inner_y), (LEFT_ROOT_POS, inner_y), (LEFT_ROOT_POS, left_pts["green"][1]), left_pts["green"]],
]
X, Y = seg_lines(blue_left)
fig.add_trace(go.Scatter(x=X, y=Y, mode="lines", line=dict(width=2.4, color=BLUE), xaxis=xb, yaxis=yb,
                         hoverinfo="skip", showlegend=False))

# main heat map
SUB = 8
FILL = {
    ".": [0] * SUB,
    "|": [0, 0, 0, 1, 1, 0, 0, 0],
    ":": [0, 0, 0, 0, 0, 0.5, 0, 0],
    "#": [1] * SUB,
    "%": [1, 1, 1, 0.5, 1, 1, 0, 1],
}
NARROW = [0, 1, 1, 1, 1, 1, 0, 0]
STRIPE = [0, 0, 1, 1, 0, 0, 0, 0]
grid = [(a.replace(" ", "").ljust(60, ".")[:60] + b.replace(" ", "").ljust(60, ".")[:60])
        for a, b in zip(HEAT_WEST, HEAT_EAST)]
SOLID = "#%"


def is_solid(r, c):
    return 0 <= r < len(grid) and 0 <= c < 120 and grid[r][c] in SOLID


z = []
for r, line in enumerate(grid):
    upper, lower = [], []
    for c, ch in enumerate(line):
        a = b = FILL[ch]
        if ch in SOLID and not is_solid(r, c - 1) and not is_solid(r, c + 1):
            a = b = NARROW
            if not is_solid(r - 1, c) and not is_solid(r + 1, c):
                b = STRIPE
        upper.extend(a)
        lower.extend(b)
    z.append(upper)
    z.append(lower)
n_heat_rows = len(z)
n_heat_cols = len(z[0])
xc, yc = add_axes(3, dx(704, 2671), dy(696, 2664), [-0.5, n_heat_cols - 0.5], [n_heat_rows - 0.5, -0.5],
                  side="right", ticks="inside", ticklen=10, tickcolor="#111", tickwidth=1.5,
                  tickvals=list(range(n_heat_rows)))
fig.add_trace(go.Heatmap(z=z, zmin=0, zmax=1, showscale=False, xaxis=xc, yaxis=yc, hoverinfo="skip",
                         colorscale=[[0, "#55ff00"], [0.5, "#b98a00"], [1, "#ff0000"]]))


# small panels
def panel(n, xdom, ydom, labels, cols, runs):
    m = []
    for r in runs:
        row = [0] * cols
        for a, b in r:
            for c in range(a, b):
                row[c] = 1
        m.append(row)
    xp, yp = add_axes(n, xdom, ydom, [-0.5, cols - 0.5], [len(runs) - 0.5, -0.5],
                      side="right", ticks="inside", ticklen=6, tickcolor="#111", tickwidth=2,
                      tickvals=list(range(len(runs))), ticktext=labels, showticklabels=True,
                      ticklabelstandoff=5, tickfont=dict(family="DejaVu Sans", size=33.4, color="#111"))
    fig.add_trace(go.Heatmap(z=m, zmin=0, zmax=1, showscale=False, xaxis=xp, yaxis=yp, hoverinfo="skip",
                             colorscale=[[0, "#0000aa"], [1, "#bf0000"]]))


panel(4, dx(18, 592), dy(2908, 3193), B_LABELS, B_COLS, B_RUNS)
panel(5, dx(1221, 1796), dy(2908, 3193), C_LABELS, C_COLS, C_RUNS)
panel(6, dx(18, 592), dy(3428, 3712), D_LABELS, D_COLS, D_RUNS)
panel(7, dx(1221, 1796), dy(3428, 3712), E_LABELS, E_COLS, E_RUNS)

# overlays
shapes = []
for (x0, y0, x1, y1) in [(701, 2212, 1220, 2661), (1217, 1961, 1624, 2193), (1621, 1631, 1723, 1811), (2297, 1075, 2510, 1142)]:
    shapes.append(dict(type="rect", xref="paper", yref="paper", x0=x0 / W, x1=x1 / W, y0=1 - y0 / H, y1=1 - y1 / H,
                       line=dict(color="#0a14d8", width=5), layer="above"))
for pts in [
    [(2079, 1057), (2195, 1057), (2254, 1116), (2195, 1176), (2079, 1176)],
    [(1417, 1650), (1535, 1650), (1594, 1709), (1535, 1769), (1417, 1769)],
    [(1809, 2033), (1694, 2033), (1633, 2093), (1694, 2153), (1809, 2153)],
    [(1417, 2396), (1301, 2396), (1240, 2457), (1301, 2515), (1417, 2515)],
]:
    path = "M " + " L ".join(f"{p[0] / W:.5f},{1 - p[1] / H:.5f}" for p in pts) + " Z"
    shapes.append(dict(type="path", xref="paper", yref="paper", path=path, fillcolor=HEAT_BLUE,
                       line=dict(width=0), layer="above"))

ann = []
for t, x, y in [("E", 2152, 1108), ("D", 1490, 1702), ("C", 1736, 2087), ("B", 1344, 2451)]:
    ann.append(dict(text=t, xref="paper", yref="paper", x=x / W, y=1 - y / H, showarrow=False, xanchor="center",
                    yanchor="middle", font=dict(family="DejaVu Sans", size=80, color="white")))
for t, x, y in [("a", 78, 121), ("b", 78, 2809), ("c", 1246, 2809), ("d", 78, 3329), ("e", 1246, 3329)]:
    ann.append(dict(text="<b>" + t + "</b>", xref="paper", yref="paper", x=x / W, y=1 - y / H, showarrow=False,
                    xanchor="center", yanchor="middle",
                    font=dict(family="Liberation Sans", size=96, color="black")))

fig.update_layout(width=W, height=H, margin=dict(l=0, r=0, t=0, b=0), autosize=False,
                  paper_bgcolor="white", plot_bgcolor="white", showlegend=False,
                  shapes=shapes, annotations=ann, **layout)
fig.write_html("out.html", config={"displayModeBar": False}, post_script="document.body.style.margin='0';")
